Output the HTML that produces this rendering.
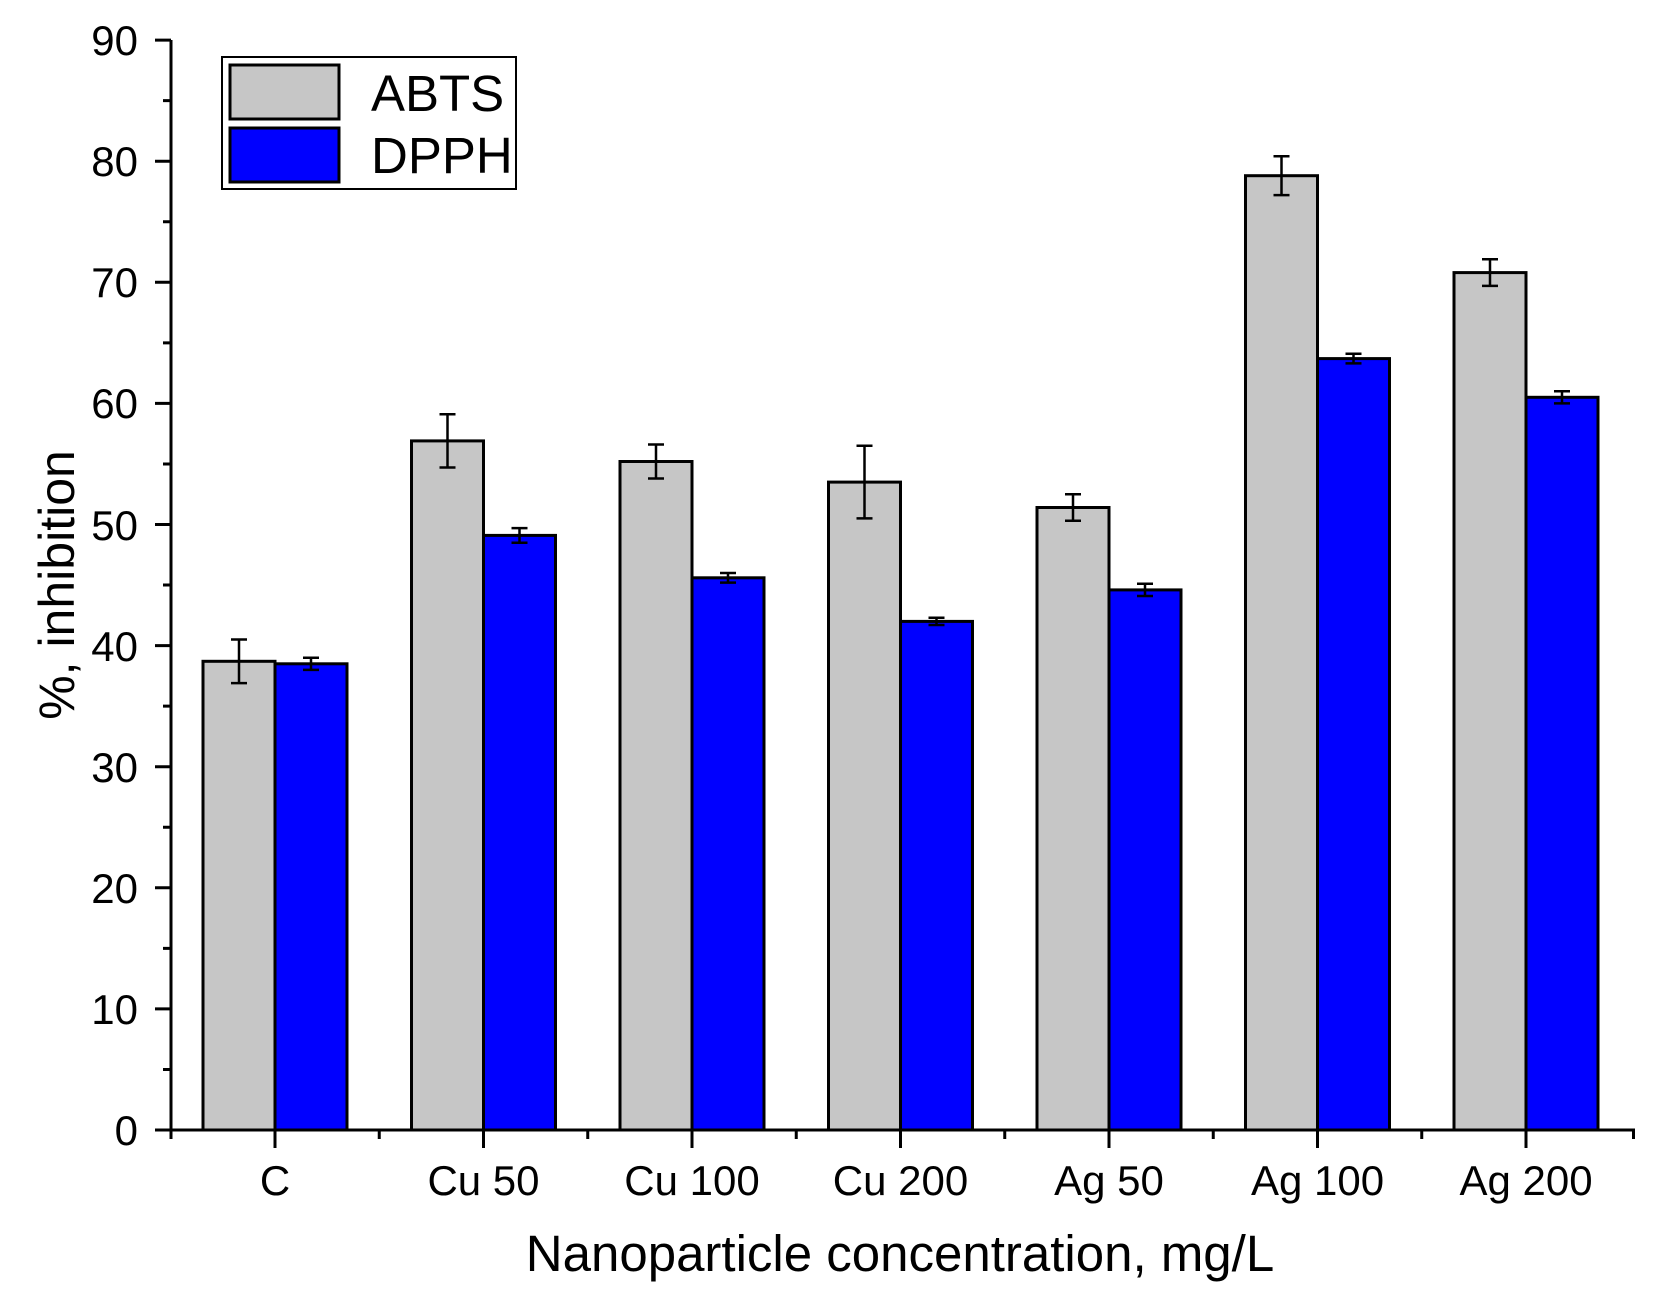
<!DOCTYPE html>
<html><head><style>body{margin:0;background:#fff}</style></head><body>
<svg width="1655" height="1299" xmlns="http://www.w3.org/2000/svg" font-family="Liberation Sans, Arial, sans-serif">
<rect width="1655" height="1299" fill="#fff"/>
<g stroke="#000" stroke-width="3">
<rect x="203" y="661.3" width="72" height="468.7" fill="#c6c6c6"/>
<rect x="275" y="663.8" width="72" height="466.2" fill="#0000ff"/>
<rect x="411.5" y="440.9" width="72" height="689.1" fill="#c6c6c6"/>
<rect x="483.5" y="535.4" width="72" height="594.6" fill="#0000ff"/>
<rect x="620" y="461.5" width="72" height="668.5" fill="#c6c6c6"/>
<rect x="692" y="577.8" width="72" height="552.2" fill="#0000ff"/>
<rect x="828.5" y="482.1" width="72" height="647.9" fill="#c6c6c6"/>
<rect x="900.5" y="621.4" width="72" height="508.6" fill="#0000ff"/>
<rect x="1037" y="507.5" width="72" height="622.5" fill="#c6c6c6"/>
<rect x="1109" y="589.9" width="72" height="540.1" fill="#0000ff"/>
<rect x="1245.5" y="175.7" width="72" height="954.3" fill="#c6c6c6"/>
<rect x="1317.5" y="358.6" width="72" height="771.4" fill="#0000ff"/>
<rect x="1454" y="272.6" width="72" height="857.4" fill="#c6c6c6"/>
<rect x="1526" y="397.3" width="72" height="732.7" fill="#0000ff"/>
</g>
<g stroke="#000" stroke-width="2.5" fill="none">
<path d="M239 639.5V683.1M231 639.5H247M231 683.1H247"/>
<path d="M311 657.7V669.9M303 657.7H319M303 669.9H319"/>
<g transform="translate(1.5,0)">
<path d="M446 414.3V467.5M438 414.3H454M438 467.5H454"/>
<path d="M518 528.1V542.7M510 528.1H526M510 542.7H526"/>
</g>
<g transform="translate(3,0)">
<path d="M653 444.5V478.5M645 444.5H661M645 478.5H661"/>
<path d="M725 573V582.6M717 573H733M717 582.6H733"/>
</g>
<g transform="translate(4.5,0)">
<path d="M860 445.8V518.4M852 445.8H868M852 518.4H868"/>
<path d="M932 617.8V625M924 617.8H940M924 625H940"/>
</g>
<g transform="translate(6,0)">
<path d="M1067 494.2V520.8M1059 494.2H1075M1059 520.8H1075"/>
<path d="M1139 583.8V596M1131 583.8H1147M1131 596H1147"/>
</g>
<g transform="translate(7.5,0)">
<path d="M1274 156.3V195.1M1266 156.3H1282M1266 195.1H1282"/>
<path d="M1346 353.8V363.4M1338 353.8H1354M1338 363.4H1354"/>
</g>
<g transform="translate(9,0)">
<path d="M1481 259.3V285.9M1473 259.3H1489M1473 285.9H1489"/>
<path d="M1553 391.2V403.4M1545 391.2H1561M1545 403.4H1561"/>
</g>
</g>
<g stroke="#000" stroke-width="3" fill="none">
<path d="M171 40V1131M169 1130H1635"/>
<path d="M171 1130H155M171 1008.9H155M171 887.8H155M171 766.7H155M171 645.6H155M171 524.5H155M171 403.4H155M171 282.3H155M171 161.2H155M171 40.1H155
M171 1069.45H163M171 948.35H163M171 827.25H163M171 706.15H163M171 585.05H163M171 463.95H163M171 342.85H163M171 221.75H163M171 100.65H163
M171 1130V1139M379.25 1130V1139M587.75 1130V1139M796.25 1130V1139M1004.75 1130V1139M1213.25 1130V1139M1421.75 1130V1139M1633.5 1130V1139
M275 1130V1148M483.5 1130V1148M692 1130V1148M900.5 1130V1148M1109 1130V1148M1317.5 1130V1148M1526 1130V1148"/>
</g>
<g font-size="42" fill="#000" text-anchor="end">
<text x="138" y="1145">0</text><text x="138" y="1024">10</text><text x="138" y="903">20</text><text x="138" y="782">30</text><text x="138" y="661">40</text><text x="138" y="540">50</text><text x="138" y="418">60</text><text x="138" y="297">70</text><text x="138" y="176">80</text><text x="138" y="55">90</text>
</g>
<g font-size="42" fill="#000" text-anchor="middle">
<text x="275" y="1195">C</text><text x="483.5" y="1195">Cu 50</text><text x="692" y="1195">Cu 100</text><text x="900.5" y="1195">Cu 200</text><text x="1109" y="1195">Ag 50</text><text x="1317.5" y="1195">Ag 100</text><text x="1526" y="1195">Ag 200</text>
</g>
<rect x="222" y="57" width="294" height="132" fill="#fff" stroke="#000" stroke-width="2"/>
<rect x="230" y="65" width="109" height="54" fill="#c6c6c6" stroke="#000" stroke-width="3"/>
<rect x="230" y="128" width="109" height="54" fill="#0000ff" stroke="#000" stroke-width="3"/>
<text x="371" y="111" font-size="51">ABTS</text>
<text x="371" y="173" font-size="51">DPPH</text>
<text x="900" y="1271" font-size="51" text-anchor="middle">Nanoparticle concentration, mg/L</text>
<text transform="translate(74,585) rotate(-90)" font-size="50" text-anchor="middle">%, inhibition</text>
</svg>
</body></html>
